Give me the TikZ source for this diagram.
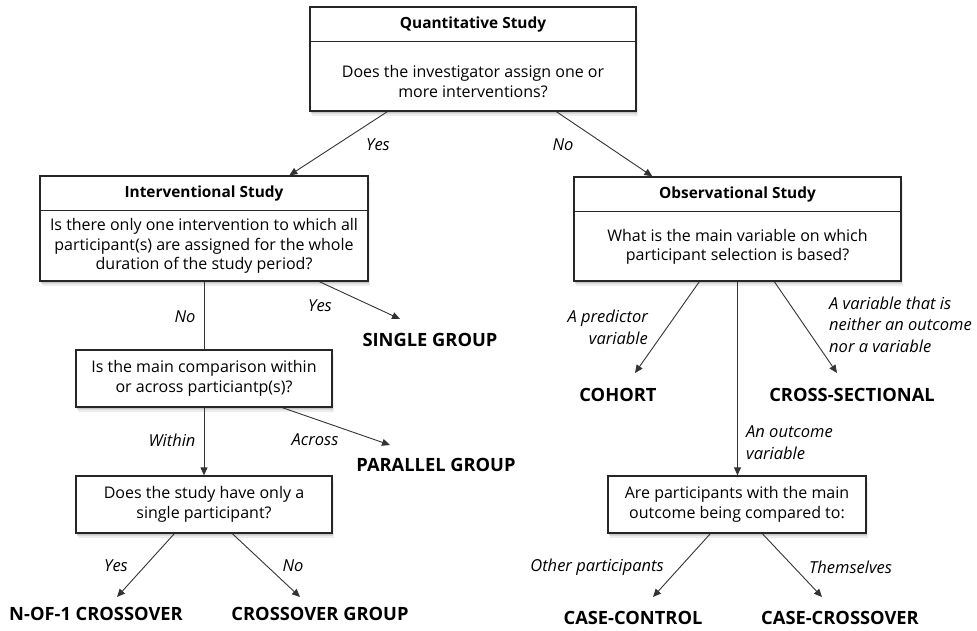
\documentclass[tikz,border=0pt]{standalone}
\usepackage{fontspec}
\setmainfont{Open Sans}
\usetikzlibrary{arrows.meta,shadows,calc}

\tikzset{
  box/.style={draw=black!85, line width=1.3pt, fill=white, inner sep=0pt,
    drop shadow={shadow xshift=0.5pt, shadow yshift=-1.5pt, opacity=0.2},
    drop shadow={shadow xshift=1pt, shadow yshift=-3pt, opacity=0.18},
    drop shadow={shadow xshift=1.5pt, shadow yshift=-4.5pt, opacity=0.14}},
  divider/.style={draw=black!85, line width=1.3pt},
  qtext/.style={align=center, font=\fontsize{16}{19.5}\selectfont},
  boxtitle/.style={font=\fontsize{15.4}{17}\selectfont\bfseries},
  leaf/.style={font=\fontsize{18.3}{20}\selectfont\bfseries},
  lbl/.style={font=\fontsize{16.5}{21.5}\selectfont\itshape, inner sep=0pt},
  link/.style={draw=black!80, line width=0.9pt, -{Triangle[length=8pt,width=7pt]}},
  plainlink/.style={draw=black!80, line width=0.9pt},
}

\begin{document}
\begin{tikzpicture}[x=1pt,y=-1pt]
\useasboundingbox (0,0) rectangle (977,630);

% ---- top question box
\node[box, minimum width=326pt, minimum height=104pt] (qs) at (473,59) {};
\draw[divider] ($(qs.north west)+(0,35)$) -- ($(qs.north east)+(0,35)$);
\node[boxtitle] (qst) at ($(qs.north)+(0,18)$) {Quantitative Study};
\node[qtext] (qsq) at (473,81.5) {Does the investigator assign one or\\more interventions?};

% ---- interventional branch
\node[box, minimum width=328pt, minimum height=105pt] (is) at (204,228.5) {};
\draw[divider] ($(is.north west)+(0,35)$) -- ($(is.north east)+(0,35)$);
\node[boxtitle] (ist) at ($(is.north)+(0,18)$) {Interventional Study};
\node[qtext] (isq) at (204,246) {Is there only one intervention to which all\\participant(s) are assigned for the whole\\duration of the study period?};

% ---- observational branch
\node[box, minimum width=327pt, minimum height=104pt] (os) at (737.5,229) {};
\draw[divider] ($(os.north west)+(0,35)$) -- ($(os.north east)+(0,35)$);
\node[boxtitle] (ost) at ($(os.north)+(0,18)$) {Observational Study};
\node[qtext] (osq) at (737.5,247) {What is the main variable on which\\participant selection is based?};

% ---- lower question boxes
\node[box, qtext, minimum width=256pt, minimum height=57pt] (cmp) at (204,378.5)
  {Is the main comparison within\\or across particiantp(s)?};
\node[box, qtext, minimum width=256pt, minimum height=57pt] (sp) at (204,504.5)
  {Does the study have only a\\single participant?};
\node[box, qtext, minimum width=258pt, minimum height=57pt] (cto) at (737,504.5)
  {Are participants with the main\\outcome being compared to:};

% ---- outcomes
\node[leaf] (sg) at (430,340) {SINGLE GROUP};
\node[leaf] (pg) at (436,465) {PARALLEL GROUP};
\node[leaf] (n1) at (96,614) {N-OF-1 CROSSOVER};
\node[leaf] (cg) at (320,614) {CROSSOVER GROUP};
\node[leaf] (co) at (618,395) {COHORT};
\node[leaf] (cs) at (852,395) {CROSS-SECTIONAL};
\node[leaf] (cc) at (633,618) {CASE-CONTROL};
\node[leaf] (cx) at (840,618) {CASE-CROSSOVER};

% ---- arrow ends just above the outcome labels
\coordinate (sgin) at (400,319);
\coordinate (pgin) at (390,445);
\coordinate (n1in) at (117,597);
\coordinate (cgin) at (300,597);
\coordinate (coin) at (635,373);
\coordinate (csin) at (837,373);
\coordinate (ccin) at (653,597);
\coordinate (cxin) at (822,597);

% ---- connectors
\draw[link] ($(qs.south west)+(78,0)$) -- ($(is.north west)+(250,0)$);
\draw[link] ($(qs.south west)+(247,0)$) -- ($(os.north west)+(79,0)$);
\node[lbl] (l1) at (378,145) {Yes};
\node[lbl] (l2) at (563,145) {No};

\draw[plainlink] (is.south) -- (cmp.north);
\node[lbl] (l3) at (185,317) {No};
\draw[link] ($(is.south west)+(280,0)$) -- (sgin);
\node[lbl] (l4) at (320,306) {Yes};

\draw[link] (cmp.south) -- (sp.north);
\node[lbl] (l5) at (172,440) {Within};
\draw[link] ($(cmp.south west)+(207,0)$) -- (pgin);
\node[lbl] (l6) at (315,440) {Across};

\draw[link] ($(sp.south west)+(99,0)$) -- (n1in);
\node[lbl] (l7) at (116,566) {Yes};
\draw[link] ($(sp.south west)+(157,0)$) -- (cgin);
\node[lbl] (l8) at (293,566) {No};

\draw[link] ($(os.south west)+(126,0)$) -- (coin);
\node[lbl, anchor=east, align=right] (l9) at (648,327.5) {A predictor\\variable};
\draw[link] ($(os.south west)+(201,0)$) -- (csin);
\node[lbl, anchor=west, align=left] (l10) at (829,324.5) {A variable that is\\neither an outcome\\nor a variable};
\draw[link] (os.south) -- (os.south |- cto.north);
\node[lbl, anchor=west, align=left] (l11) at (746,442.5) {An outcome\\variable};

\draw[link] ($(cto.south west)+(103,0)$) -- (ccin);
\node[lbl, anchor=east] (l12) at (664,567) {Other participants};
\draw[link] ($(cto.south west)+(155,0)$) -- (cxin);
\node[lbl, anchor=west] (l13) at (809,567) {Themselves};
\end{tikzpicture}
\end{document}
